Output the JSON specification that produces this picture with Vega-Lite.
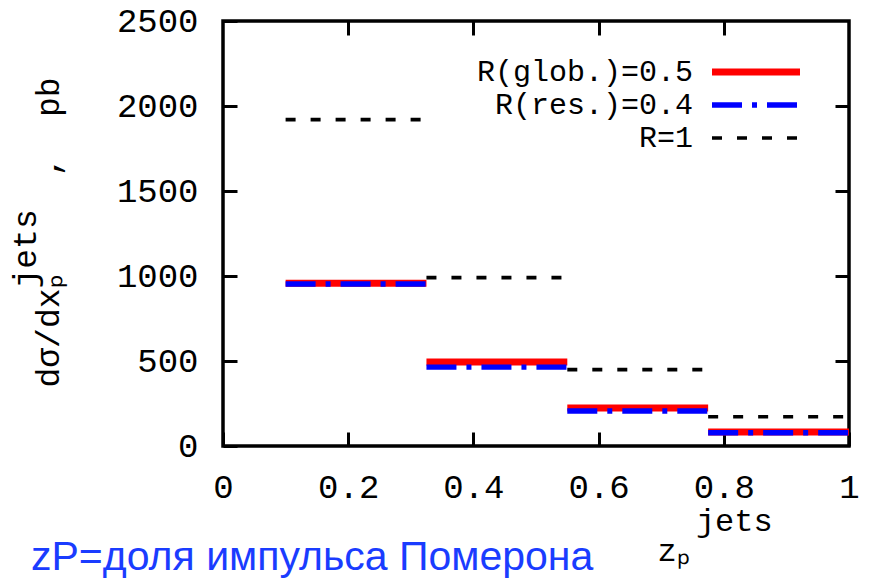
{
  "$schema": "https://vega.github.io/schema/vega-lite/v6.json",
  "width": 626,
  "height": 425,
  "autosize": "none",
  "padding": {"left": 223, "top": 21, "right": 27, "bottom": 135},
  "background": "white",
  "config": {
    "view": {"stroke": "black", "strokeWidth": 3.5},
    "font": "Liberation Mono"
  },
  "title": {
    "text": "zP=доля импульса Померона",
    "orient": "bottom",
    "anchor": "start",
    "frame": "group",
    "dx": -192,
    "dy": -38,
    "offset": 10,
    "font": "Liberation Sans",
    "fontSize": 41,
    "fontWeight": "normal",
    "color": "#1a3cff"
  },
  "data": {
    "values": [
      {"series": "R(glob.)=0.5", "x0": 0.1, "x1": 0.325, "y": 958},
      {"series": "R(glob.)=0.5", "x0": 0.325, "x1": 0.55, "y": 494},
      {"series": "R(glob.)=0.5", "x0": 0.55, "x1": 0.775, "y": 224},
      {"series": "R(glob.)=0.5", "x0": 0.775, "x1": 1.0, "y": 82},
      {"series": "R(res.)=0.4", "x0": 0.1, "x1": 0.325, "y": 953},
      {"series": "R(res.)=0.4", "x0": 0.325, "x1": 0.55, "y": 464},
      {"series": "R(res.)=0.4", "x0": 0.55, "x1": 0.775, "y": 206},
      {"series": "R(res.)=0.4", "x0": 0.775, "x1": 1.0, "y": 78},
      {"series": "R=1", "x0": 0.1, "x1": 0.325, "y": 1920},
      {"series": "R=1", "x0": 0.325, "x1": 0.55, "y": 990},
      {"series": "R=1", "x0": 0.55, "x1": 0.775, "y": 449},
      {"series": "R=1", "x0": 0.775, "x1": 1.0, "y": 172}
    ]
  },
  "layer": [
    {
      "mark": {"type": "rule"},
      "encoding": {
        "x": {
          "field": "x0",
          "type": "quantitative",
          "scale": {"domain": [0, 1], "nice": false, "zero": false},
          "axis": {
            "orient": "bottom",
            "values": [0, 0.2, 0.4, 0.6, 0.8, 1],
            "format": "~g",
            "domain": false,
            "grid": false,
            "tickSize": -14,
            "tickWidth": 3,
            "tickColor": "black",
            "labelFont": "Liberation Mono",
            "labelFontSize": 34,
            "labelColor": "black",
            "labelPadding": 38,
            "labelFlush": false,
            "labelOverlap": false,
            "title": ["\u200b\u00a0\u00a0jets", "zₚ"],
            "titleFont": "Liberation Mono",
            "titleFontSize": 32,
            "titleFontWeight": "normal",
            "titleColor": "black",
            "titleAlign": "left",
            "titleBaseline": "alphabetic",
            "titleLineHeight": 30,
            "titleX": 434,
            "titleY": 84
          }
        },
        "x2": {"field": "x1"},
        "y": {
          "field": "y",
          "type": "quantitative",
          "scale": {"domain": [0, 2500], "nice": false},
          "axis": {
            "orient": "left",
            "values": [0, 500, 1000, 1500, 2000, 2500],
            "format": "d",
            "domain": false,
            "grid": false,
            "tickSize": -14,
            "tickWidth": 3,
            "tickColor": "black",
            "labelFont": "Liberation Mono",
            "labelFontSize": 34,
            "labelColor": "black",
            "labelPadding": 39,
            "labelFlush": false,
            "labelOverlap": false,
            "title": ["\u200b\u00a0\u00a0\u00a0\u00a0\u00a0jets", "dσ/dxₚ\u00a0\u00a0\u00a0\u00a0\u00a0,\u00a0\u00a0pb"],
            "titleFont": "Liberation Mono",
            "titleFontSize": 33,
            "titleFontWeight": "normal",
            "titleColor": "black",
            "titleAngle": -90,
            "titleAlign": "left",
            "titleBaseline": "alphabetic",
            "titleLineHeight": 23,
            "titleX": -188,
            "titleY": 366
          }
        },
        "color": {
          "field": "series",
          "type": "nominal",
          "scale": {"domain": ["R(glob.)=0.5", "R(res.)=0.4", "R=1"], "range": ["#ff0000", "#0000ff", "#000000"]},
          "legend": {
            "orient": "none",
            "legendX": 518,
            "legendY": 36,
            "title": null,
            "padding": 0,
            "symbolType": "M-4,0H4",
            "symbolSize": 484,
            "labelAlign": "right",
            "labelOffset": -78,
            "labelFont": "Liberation Mono",
            "labelFontSize": 30,
            "labelColor": "black",
            "labelLimit": 0,
            "rowPadding": 3
          }
        },
        "strokeDash": {
          "field": "series",
          "type": "nominal",
          "scale": {"domain": ["R(glob.)=0.5", "R(res.)=0.4", "R=1"], "range": [[1, 0], [30, 10, 5, 10], [10, 15]]},
          "legend": {
            "orient": "none",
            "legendX": 518,
            "legendY": 36,
            "title": null,
            "padding": 0,
            "symbolType": "M-4,0H4",
            "symbolSize": 484,
            "labelAlign": "right",
            "labelOffset": -78,
            "labelFont": "Liberation Mono",
            "labelFontSize": 30,
            "labelColor": "black",
            "labelLimit": 0,
            "rowPadding": 3
          }
        },
        "strokeWidth": {
          "field": "series",
          "type": "nominal",
          "scale": {"domain": ["R(glob.)=0.5", "R(res.)=0.4", "R=1"], "range": [7, 3.7, 3.3]},
          "legend": {
            "orient": "none",
            "legendX": 518,
            "legendY": 36,
            "title": null,
            "padding": 0,
            "symbolType": "M-4,0H4",
            "symbolSize": 484,
            "labelAlign": "right",
            "labelOffset": -78,
            "labelFont": "Liberation Mono",
            "labelFontSize": 30,
            "labelColor": "black",
            "labelLimit": 0,
            "rowPadding": 3
          }
        }
      }
    },
    {
      "mark": {"type": "point", "opacity": 0},
      "encoding": {
        "x": {
          "field": "x0",
          "type": "quantitative",
          "scale": {"domain": [0, 1], "nice": false, "zero": false},
          "axis": {
            "orient": "top",
            "values": [0.2, 0.4, 0.6, 0.8],
            "labels": false,
            "domain": false,
            "grid": false,
            "tickSize": -14,
            "tickWidth": 3,
            "tickColor": "black",
            "title": null
          }
        },
        "y": {
          "field": "y",
          "type": "quantitative",
          "scale": {"domain": [0, 2500], "nice": false},
          "axis": {
            "orient": "right",
            "values": [500, 1000, 1500, 2000],
            "labels": false,
            "domain": false,
            "grid": false,
            "tickSize": -14,
            "tickWidth": 3,
            "tickColor": "black",
            "title": null
          }
        }
      }
    }
  ],
  "resolve": {"axis": {"x": "independent", "y": "independent"}}
}
